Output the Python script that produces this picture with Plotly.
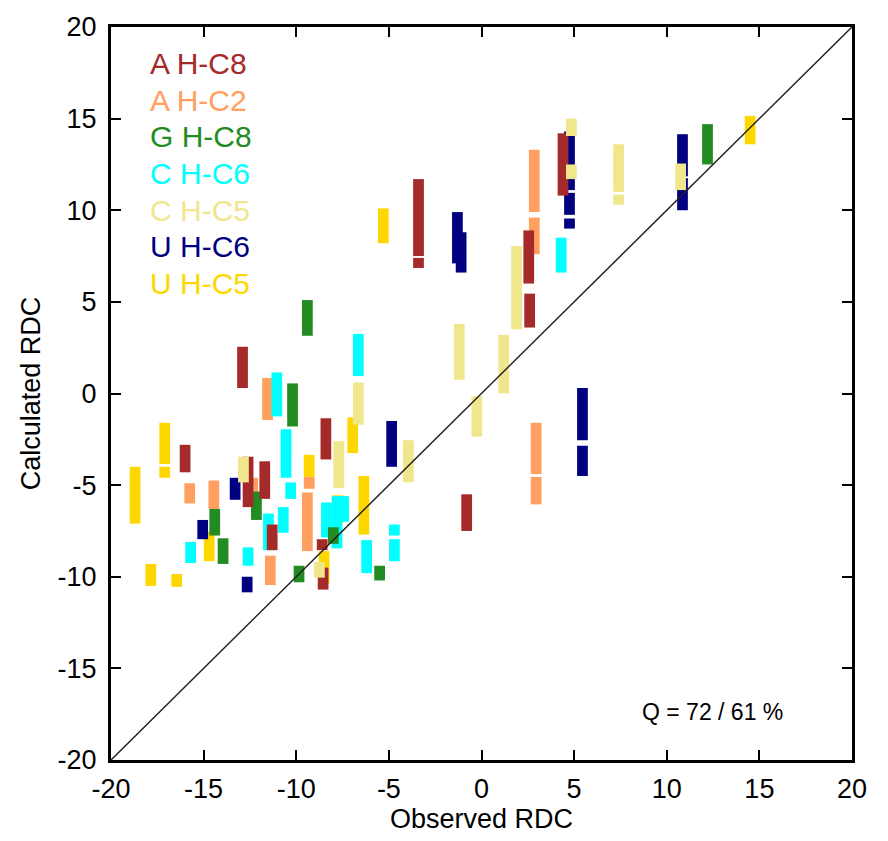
import plotly.graph_objects as go

# ---- data: observed RDC (x) and calculated RDC range (low, high) ----
ahc8_obs = [-3.4, -3.4, 2.55, 2.6, 4.4, -12.9, -16.0, -12.6, -11.7, -11.3, -8.4, -8.6, -8.55, -0.8]
ahc8_lo  = [7.5, 6.85, 6.0, 3.6, 10.8, 0.3, -4.3, -6.2, -5.75, -8.55, -3.6, -8.55, -10.7, -7.5]
ahc8_hi  = [11.7, 7.4, 8.9, 5.45, 14.2, 2.55, -2.8, -3.45, -3.7, -7.15, -1.35, -7.95, -9.5, -5.5]

ahc2_obs = [2.85, 2.85, 2.95, 2.95, -11.55, -15.75, -14.45, -12.35, -11.4, -9.3, -9.4]
ahc2_lo  = [9.9, 7.6, -4.4, -6.05, -1.45, -6.0, -6.3, -5.7, -10.45, -5.2, -8.6]
ahc2_hi  = [13.3, 9.6, -1.6, -4.55, 0.85, -4.9, -4.75, -4.6, -8.85, -4.55, -5.4]

ghc8_obs = [12.2, -9.4, -10.2, -12.15, -14.4, -13.95, -8.0, -5.5, -9.85]
ghc8_lo  = [12.5, 3.15, -1.8, -6.9, -7.75, -9.3, -8.2, -10.2, -10.3]
ghc8_hi  = [14.7, 5.1, 0.55, -5.35, -6.3, -7.9, -7.3, -9.4, -9.4]

chc6_obs = [4.3, -11.05, -6.65, -10.55, -10.3, -10.7, -11.5, -12.6, -15.7, -8.37, -7.8, -7.45, -6.2, -4.7, -4.7]
chc6_lo  = [6.6, -1.25, 0.95, -4.6, -5.75, -7.6, -8.55, -9.4, -9.25, -7.85, -8.45, -7.0, -9.8, -7.75, -9.15]
chc6_hi  = [8.5, 1.15, 3.25, -1.95, -4.85, -6.2, -6.55, -8.4, -8.1, -5.95, -5.6, -5.6, -8.0, -7.15, -7.95]

chc5_obs = [4.85, 4.85, 7.4, 7.4, 10.75, 1.9, -1.2, 1.2, -0.25, -6.65, -7.7, -3.95, -12.85, -8.75]
chc5_lo  = [14.05, 11.7, 11.0, 10.3, 11.1, 3.5, 0.75, 0.0, -2.35, -1.7, -5.15, -4.85, -4.85, -10.05]
chc5_hi  = [15.0, 12.5, 13.6, 10.85, 12.55, 8.05, 3.8, 3.2, -0.15, 0.6, -2.6, -2.55, -3.45, -9.2]

uhc6_obs = [4.75, 4.75, 4.75, 10.85, 10.85, -1.3, -1.1, 5.45, 5.45, -4.85, -13.3, -15.05, -12.65]
uhc6_lo  = [11.1, 9.75, 9.0, 11.85, 10.0, 7.1, 6.6, -2.55, -4.5, -4.0, -5.8, -7.95, -10.85]
uhc6_hi  = [14.3, 10.95, 9.55, 14.15, 11.75, 9.9, 8.8, 0.3, -2.85, -1.5, -4.6, -6.9, -10.0]

uhc5_obs = [-5.3, 14.5, -17.1, -17.1, -18.7, -14.7, -17.85, -16.45, -9.3, -6.95, -6.35, -8.5, -7.75]
uhc5_lo  = [8.2, 13.6, -3.85, -4.6, -7.1, -9.15, -10.5, -10.55, -4.55, -3.25, -7.7, -10.4, -7.1]
uhc5_hi  = [10.1, 15.15, -1.6, -4.0, -4.0, -7.55, -9.3, -9.85, -3.35, -1.3, -4.5, -8.6, -5.55]

tick_vals = [-20, -15, -10, -5, 0, 5, 10, 15, 20]
tick_text = ["-20", "-15", "-10", "-5", "0", "5", "10", "15", "20"]

labels = ["A H-C8", "A H-C2", "G H-C8", "C H-C6", "C H-C5", "U H-C6", "U H-C5"]
colors = ["#A52A2A", "#FFA060", "#228B22", "#00FFFF", "#F0E68C", "#000080", "#FFD700"]
series = {
    "A H-C8": (ahc8_obs, ahc8_lo, ahc8_hi),
    "A H-C2": (ahc2_obs, ahc2_lo, ahc2_hi),
    "G H-C8": (ghc8_obs, ghc8_lo, ghc8_hi),
    "C H-C6": (chc6_obs, chc6_lo, chc6_hi),
    "C H-C5": (chc5_obs, chc5_lo, chc5_hi),
    "U H-C6": (uhc6_obs, uhc6_lo, uhc6_hi),
    "U H-C5": (uhc5_obs, uhc5_lo, uhc5_hi),
}
draw_order = ["A H-C2", "U H-C5", "C H-C6", "G H-C8", "U H-C6", "A H-C8", "C H-C5"]
diag = [-20, 20]
q_text = "Q = 72 / 61 %"

fig = go.Figure()
for name in draw_order:
    obs, lo, hi = series[name]
    col = colors[labels.index(name)]
    fig.add_trace(go.Bar(
        x=obs, y=[h - l for h, l in zip(hi, lo)], base=lo,
        width=0.58, marker=dict(color=col, line=dict(width=0)),
        name=name, showlegend=False,
    ))

fig.add_trace(go.Scatter(x=diag, y=diag, mode="lines",
                         line=dict(color="#222222", width=1.5),
                         showlegend=False, hoverinfo="skip"))

font_main = "Liberation Sans, Arial, sans-serif"
for i, (lab, col) in enumerate(zip(labels, colors)):
    fig.add_annotation(x=-18, y=18 - 2 * i, xref="x", yref="y", text=lab,
                       showarrow=False, xanchor="left", yanchor="middle",
                       font=dict(family=font_main, size=30, color=col))

fig.add_annotation(x=16.4, y=-17.4, xref="x", yref="y", text=q_text,
                   showarrow=False, xanchor="right", yanchor="middle",
                   font=dict(family=font_main, size=23, color="black"))

axis_common = dict(
    range=[-20, 20], tickmode="array", tickvals=tick_vals, ticktext=tick_text,
    ticks="inside", ticklen=10, tickwidth=2,
    tickcolor="black", showline=True, linewidth=3, linecolor="black",
    mirror="ticks", showgrid=False, zeroline=False,
)
fig.update_xaxes(**axis_common, title=dict(text="Observed RDC",
                 font=dict(family=font_main, size=27, color="black"), standoff=6),
                 tickfont=dict(family=font_main, size=27, color="black"),
                 ticklabelstandoff=3)
fig.update_yaxes(**axis_common, title=dict(text="Calculated RDC",
                 font=dict(family=font_main, size=27, color="black"), standoff=10),
                 tickfont=dict(family=font_main, size=27, color="black"),
                 ticklabelstandoff=6)

fig.update_layout(
    width=888, height=841, barmode="overlay",
    margin=dict(l=111, r=36, t=25, b=76),
    plot_bgcolor="white", paper_bgcolor="white",
    showlegend=False,
)
fig.write_html(
    "out.html",
    config={"displayModeBar": False},
    post_script="document.body.style.margin='0';document.body.style.overflow='hidden';",
)
